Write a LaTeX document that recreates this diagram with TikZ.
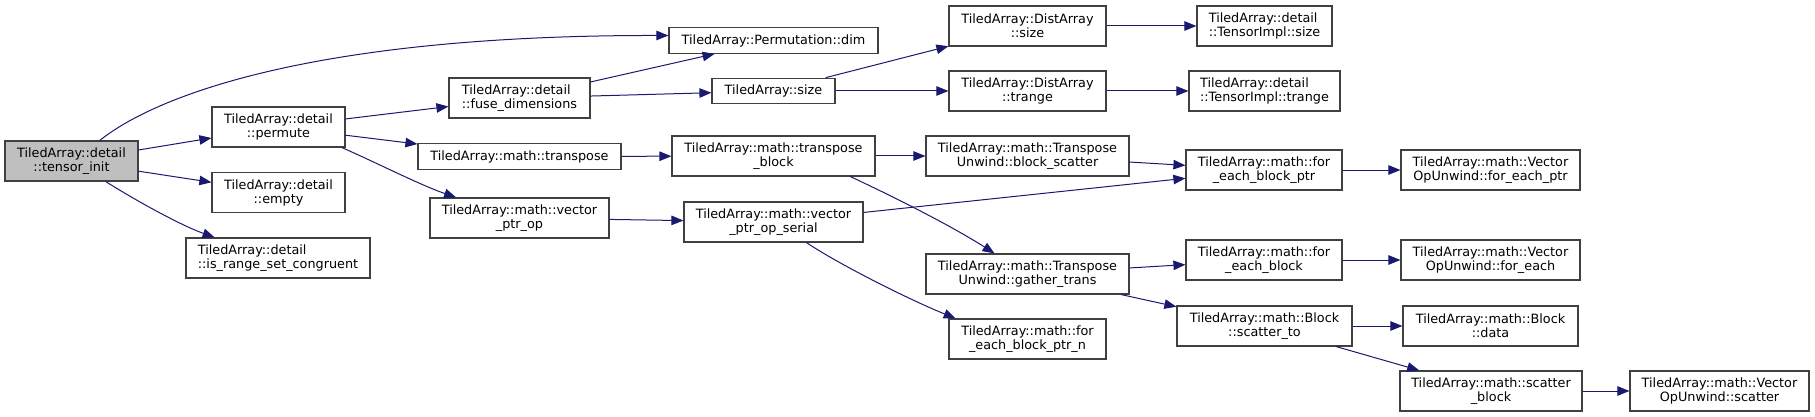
\documentclass[tikz,border=0pt]{standalone}
\usepackage{fontspec}
\setmainfont{DejaVu Sans}
\usetikzlibrary{arrows.meta}
\definecolor{cgEdge}{RGB}{ 25, 25,112}
\definecolor{cgLine}{RGB}{ 64, 64, 64}
\definecolor{cgRoot}{RGB}{191,191,191}

\begin{document}
\begin{tikzpicture}[x=1pt,y=-1pt,
  every node/.style={font=\fontsize{12.8}{14}\selectfont},
  fn/.style={draw=cgLine,line width=1.2pt,fill=white,inner sep=0pt,
             minimum height=40pt,align=center},
  fnone/.style={fn,minimum height=25.5pt},
  call/.style={draw=cgEdge,line width=1pt,-{Triangle[length=12pt,width=9.5pt]}}
]
\useasboundingbox (0,0) rectangle (1815,417);

\node[fn,fill=cgRoot,minimum width=133pt] (tensorinit) at (71.5,161) {TiledArray::detail\\::tensor\_init};
\node[fn,minimum width=133pt] (permute) at (278.5,127) {TiledArray::detail\\::permute};
\node[fn,minimum width=133pt] (empty) at (278.5,192.5) {TiledArray::detail\\::empty};
\node[fn,align=left,minimum width=184pt] (congruent) at (278,258) {TiledArray::detail\\::is\_range\_set\_congruent};
\node[fn,align=left,minimum width=141pt] (fusedims) at (519.5,98) {TiledArray::detail\\::fuse\_dimensions};
\node[fnone,minimum width=203pt] (transpose) at (519.5,156.5) {TiledArray::math::transpose};
\node[fn,minimum width=179pt] (vecptrop) at (519.5,218) {TiledArray::math::vector\\\_ptr\_op};
\node[fnone,minimum width=209pt] (permdim) at (773.5,40.5) {TiledArray::Permutation::dim};
\node[fnone,minimum width=123pt] (size) at (773.5,91) {TiledArray::size};
\node[fn,minimum width=203pt] (transblock) at (773.5,156) {TiledArray::math::transpose\\\_block};
\node[fn,minimum width=179pt] (vecserial) at (773.5,222) {TiledArray::math::vector\\\_ptr\_op\_serial};
\node[fn,minimum width=157pt] (distsize) at (1027.5,26) {TiledArray::DistArray\\::size};
\node[fn,minimum width=157pt] (disttrange) at (1027.5,91) {TiledArray::DistArray\\::trange};
\node[fn,minimum width=203pt] (blockscatter) at (1027.5,156) {TiledArray::math::Transpose\\Unwind::block\_scatter};
\node[fn,minimum width=203pt] (gathertrans) at (1027.5,274) {TiledArray::math::Transpose\\Unwind::gather\_trans};
\node[fn,minimum width=157pt] (blockptrn) at (1027.5,339) {TiledArray::math::for\\\_each\_block\_ptr\_n};
\node[fn,align=left,minimum width=135pt] (implsize) at (1264.5,26) {TiledArray::detail\\::TensorImpl::size};
\node[fn,align=left,minimum width=151pt] (impltrange) at (1264.5,91) {TiledArray::detail\\::TensorImpl::trange};
\node[fn,minimum width=156pt] (blockptr) at (1264,170) {TiledArray::math::for\\\_each\_block\_ptr};
\node[fn,minimum width=156pt] (eachblock) at (1264,260) {TiledArray::math::for\\\_each\_block};
\node[fn,minimum width=175pt] (scatterto) at (1264.5,326) {TiledArray::math::Block\\::scatter\_to};
\node[fn,minimum width=179pt] (eachptr) at (1490.5,170) {TiledArray::math::Vector\\OpUnwind::for\_each\_ptr};
\node[fn,minimum width=179pt] (foreach) at (1490.5,260) {TiledArray::math::Vector\\OpUnwind::for\_each};
\node[fn,minimum width=175pt] (blockdata) at (1490.5,326) {TiledArray::math::Block\\::data};
\node[fn,minimum width=182pt] (scatterblock) at (1491,391) {TiledArray::math::scatter\\\_block};
\node[fn,minimum width=179pt] (opscatter) at (1719.5,391) {TiledArray::math::Vector\\OpUnwind::scatter};

\draw[call] (tensorinit.36) .. controls (150,100) and (300,35) .. ([yshift=5pt]permdim.west);
\draw[call] (tensorinit) -- (permute);
\draw[call] (tensorinit) -- (empty);
\draw[call] (tensorinit.-31) .. controls (135,200) and (180,225) .. (congruent.162);
\draw[call] (permute) -- (fusedims);
\draw[call] (permute) -- (transpose);
\draw[call] (permute.-18) .. controls (375,162) and (420,185) .. (vecptrop.162);
\draw[call] (fusedims) -- (permdim);
\draw[call] (fusedims) -- (size);
\draw[call] (size) -- (distsize);
\draw[call] (size) -- (disttrange);
\draw[call] (distsize) -- (implsize);
\draw[call] (disttrange) -- (impltrange);
\draw[call] (transpose) -- (transblock);
\draw[call] (transblock) -- (blockscatter);
\draw[call] (transblock.-15) .. controls (890,195) and (950,225) .. (gathertrans.148);
\draw[call] (blockscatter) -- (blockptr);
\draw[call] (vecptrop) -- (vecserial);
\draw[call] (vecserial) -- (blockptr);
\draw[call] (vecserial.-32) .. controls (840,265) and (910,300) .. (blockptrn.164);
\draw[call] (gathertrans) -- (eachblock);
\draw[call] (gathertrans) -- (scatterto);
\draw[call] (blockptr) -- (eachptr);
\draw[call] (eachblock) -- (foreach);
\draw[call] (scatterto) -- (blockdata);
\draw[call] (scatterto) -- (scatterblock);
\draw[call] (scatterblock) -- (opscatter);
\end{tikzpicture}
\end{document}
